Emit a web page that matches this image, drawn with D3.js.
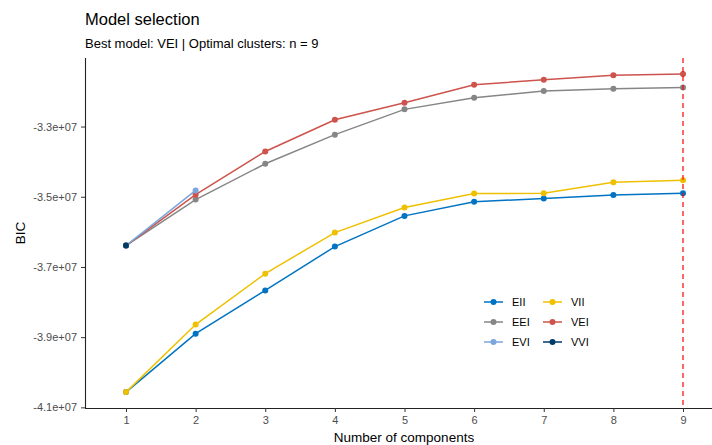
<!DOCTYPE html>
<html>
<head>
<meta charset="utf-8">
<script src="https://cdn.jsdelivr.net/npm/d3@7"></script>
<style>
  html, body { margin: 0; padding: 0; background: #fff; }
  svg { display: block; font-family: "Liberation Sans", Arial, sans-serif; }
</style>
</head>
<body>
<svg id="chart" width="712" height="445"></svg>
<script>
// Number of mixture components tested
const components = [1, 2, 3, 4, 5, 6, 7, 8, 9];

// Model names, in drawing / legend order
const models = ["EII", "VII", "EEI", "VEI", "EVI", "VVI"];
const modelColors = ["#0073C2", "#EFC000", "#868686", "#CD534C", "#7AA6DC", "#003C67"];

// BIC per model (null where the model could not be fitted)
const bicEII = [-40565000, -38900000, -37670000, -36420000, -35545000, -35140000, -35050000, -34950000, -34900000];
const bicVII = [-40565000, -38640000, -37190000, -36020000, -35305000, -34910000, -34900000, -34590000, -34530000];
const bicEEI = [-36390000, -35080000, -34060000, -33230000, -32510000, -32180000, -31985000, -31925000, -31890000];
const bicVEI = [-36390000, -34940000, -33710000, -32805000, -32320000, -31810000, -31665000, -31535000, -31500000];
const bicEVI = [-36390000, -34820000, null, null, null, null, null, null, null];
const bicVVI = [-36390000, null, null, null, null, null, null, null, null];

const yTicks = [-41000000, -39000000, -37000000, -35000000, -33000000];
const bestK = 9;

const series = [bicEII, bicVII, bicEEI, bicVEI, bicEVI, bicVVI].map((vals, i) => ({
  name: models[i],
  color: modelColors[i],
  points: components.map((k, j) => ({ k: k, v: vals[j] })).filter(d => d.v !== null)
}));

const svg = d3.select("#chart");
const margin = { left: 85, top: 58, bottom: 408 };

const x = d3.scalePoint()
  .domain(components)
  .range([126, 683]);

const allVals = series.flatMap(s => s.points.map(p => p.v));
const lo = d3.min(allVals), hi = d3.max(allVals);
const pad = (hi - lo) * 0.05;
const y = d3.scaleLinear()
  .domain([lo - pad, hi + pad])
  .range([margin.bottom, margin.top]);

// Titles
svg.append("text")
  .attr("x", 85).attr("y", 25)
  .attr("font-size", 16.5).attr("fill", "#000")
  .text("Model selection");
svg.append("text")
  .attr("x", 85).attr("y", 48)
  .attr("font-size", 13).attr("fill", "#000")
  .text("Best model: VEI | Optimal clusters: n = 9");

// Axes
const fmt = v => {
  const e = Math.floor(Math.log10(Math.abs(v)));
  const m = v / Math.pow(10, e);
  return m.toFixed(1) + "e+" + String(e).padStart(2, "0");
};

const xAxis = svg.append("g")
  .attr("transform", `translate(0,${margin.bottom})`)
  .call(d3.axisBottom(x).tickSizeOuter(0).tickSize(4).tickPadding(4));
xAxis.select(".domain").attr("d", `M${margin.left},0.5H712`);

const yAxis = svg.append("g")
  .attr("transform", `translate(${margin.left},0)`)
  .call(d3.axisLeft(y).tickValues(yTicks).tickFormat(fmt).tickSizeOuter(0).tickSize(4).tickPadding(4));
yAxis.select(".domain").attr("d", `M0.5,${margin.top}V${margin.bottom}`);

[xAxis, yAxis].forEach(g => {
  g.select(".domain").attr("stroke", "#222").attr("stroke-width", 1.1);
  g.selectAll(".tick line").attr("stroke", "#333").attr("stroke-width", 1);
  g.selectAll(".tick text").attr("fill", "#4D4D4D").attr("font-size", 11)
    .attr("font-family", "'Liberation Sans', Arial, sans-serif");
});

// Axis titles
svg.append("text")
  .attr("x", 404).attr("y", 442)
  .attr("text-anchor", "middle")
  .attr("font-size", 13.5).attr("fill", "#000")
  .text("Number of components");
svg.append("text")
  .attr("transform", `translate(25,${(margin.top + margin.bottom) / 2}) rotate(-90)`)
  .attr("text-anchor", "middle")
  .attr("font-size", 13.5).attr("fill", "#000")
  .text("BIC");

// Lines and points
const line = d3.line().x(d => x(d.k)).y(d => y(d.v));
series.forEach(s => {
  const g = svg.append("g");
  g.append("path")
    .datum(s.points)
    .attr("d", line)
    .attr("fill", "none")
    .attr("stroke", s.color)
    .attr("stroke-width", 1.5);
  g.selectAll("circle")
    .data(s.points)
    .join("circle")
    .attr("cx", d => x(d.k))
    .attr("cy", d => y(d.v))
    .attr("r", 3)
    .attr("fill", s.color);
});

// Marker for the chosen number of clusters
svg.append("line")
  .attr("x1", x(bestK)).attr("x2", x(bestK))
  .attr("y1", margin.top).attr("y2", margin.bottom)
  .attr("stroke", "#FF0000")
  .attr("stroke-width", 1.2)
  .attr("stroke-dasharray", "5,4");

// Legend: two columns, filled by row
const legend = svg.append("g");
models.forEach((m, i) => {
  const col = i % 2, row = Math.floor(i / 2);
  const lx = 484 + col * 59, ly = 302 + row * 20;
  const item = legend.append("g").attr("transform", `translate(${lx},${ly})`);
  item.append("line")
    .attr("x1", 0).attr("x2", 19).attr("y1", 0).attr("y2", 0)
    .attr("stroke", modelColors[i]).attr("stroke-width", 1.5);
  item.append("circle")
    .attr("cx", 9.5).attr("cy", 0).attr("r", 3)
    .attr("fill", modelColors[i]);
  item.append("text")
    .attr("x", 28).attr("y", 4)
    .attr("font-size", 11).attr("fill", "#000")
    .text(m);
});
</script>
</body>
</html>
